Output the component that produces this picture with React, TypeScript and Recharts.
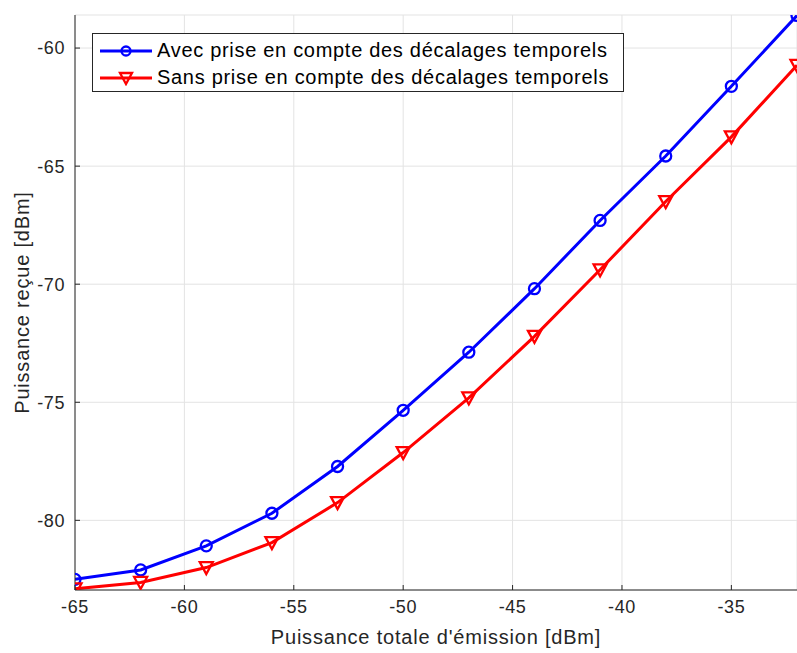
import { LineChart, Line, XAxis, YAxis, CartesianGrid } from 'recharts';

const emission = [-65, -62, -59, -56, -53, -50, -47, -44, -41, -38, -35, -32];
const avecDecalages = [-82.5, -82.1, -81.08, -79.7, -77.72, -75.34, -72.88, -70.19, -67.3, -64.57, -61.62, -58.62];
const sansDecalages = [-82.9, -82.63, -82.0, -80.94, -79.25, -77.13, -74.81, -72.21, -69.39, -66.5, -63.76, -60.73];
const xTicks = [-65, -60, -55, -50, -45, -40, -35];
const yTicks = [-80, -75, -70, -65, -60];

const labelAvec = 'Avec prise en compte des décalages temporels';
const labelSans = 'Sans prise en compte des décalages temporels';

const data = emission.map((x, i) => ({ x, avec: avecDecalages[i], sans: sansDecalages[i] }));

const FONT = '"Liberation Sans", Arial, Helvetica, sans-serif';
const AXIS = '#262626';

const TriangleDot = (props: any) => {
    const { cx, cy, index } = props;
    if (cx == null || cy == null) return null;
    return (
        <polygon
            key={`tri-${index}`}
            points={`${cx - 6.5},${cy - 5.5} ${cx + 6.5},${cy - 5.5} ${cx},${cy + 6.5}`}
            fill="none"
            stroke="#ff0000"
            strokeWidth={2.3}
        />
    );
};

const LegendRow = ({ color, marker, text }: { color: string; marker: 'circle' | 'tri'; text: string }) => (
    <div style={{ display: 'flex', alignItems: 'center', height: 27 }}>
        <svg width={52} height={16} style={{ marginRight: 5 }}>
            <line x1={0} y1={8} x2={52} y2={8} stroke={color} strokeWidth={3} />
            {marker === 'circle' ? (
                <circle cx={26} cy={8} r={4.5} fill="none" stroke={color} strokeWidth={2.3} />
            ) : (
                <polygon points="20,3 32,3 26,14" fill="none" stroke={color} strokeWidth={2.3} />
            )}
        </svg>
        <span>{text}</span>
    </div>
);

// legend box overlaid on the plot, upper left like the original
const LegendBox = () => (
    <div
        style={{
            position: 'absolute',
            left: 92,
            top: 33,
            border: `1px solid ${AXIS}`,
            background: '#fff',
            padding: '3px 8px 3px 7px',
            fontFamily: FONT,
            fontSize: 20,
            letterSpacing: 0.7,
            color: '#000',
            whiteSpace: 'nowrap',
            boxSizing: 'border-box',
            width: 532,
            height: 59,
        }}
    >
        <LegendRow color="#0000ff" marker="circle" text={labelAvec} />
        <LegendRow color="#ff0000" marker="tri" text={labelSans} />
    </div>
);

export default function App() {
    return (
        <div style={{ position: 'absolute', left: 0, top: 0, width: 797, height: 653, background: '#fff' }}>
            <LineChart width={797} height={653} data={data} margin={{ top: 15, right: 0, bottom: 0, left: 0 }}>
                <CartesianGrid stroke="#e3e3e3" strokeWidth={1} />
                <XAxis
                    dataKey="x"
                    type="number"
                    domain={[-65, -32]}
                    ticks={xTicks}
                    allowDataOverflow
                    height={63}
                    stroke={AXIS}
                    tickSize={-5}
                    tickMargin={15}
                    tick={{ fill: AXIS, fontSize: 18, fontFamily: FONT, letterSpacing: 0.6 }}
                    label={{ value: "Puissance totale d'émission [dBm]", position: 'insideBottom', offset: 9, fill: AXIS, fontSize: 20, fontFamily: FONT, letterSpacing: 0.8 }}
                />
                <XAxis
                    xAxisId="top"
                    orientation="top"
                    dataKey="x"
                    type="number"
                    domain={[-65, -32]}
                    ticks={xTicks}
                    height={0}
                    stroke={AXIS}
                    tickSize={-5}
                    tickFormatter={() => ''}
                />
                <YAxis
                    type="number"
                    domain={[-82.95, -58.6]}
                    ticks={yTicks}
                    allowDataOverflow
                    width={75}
                    stroke={AXIS}
                    tickSize={-5}
                    tickMargin={15}
                    tick={{ fill: AXIS, fontSize: 18, fontFamily: FONT, letterSpacing: 0.6 }}
                    label={{ value: 'Puissance reçue [dBm]', angle: -90, position: 'insideLeft', offset: 22, fill: AXIS, fontSize: 20, fontFamily: FONT, letterSpacing: 0.8, style: { textAnchor: 'middle' } }}
                />
                <Line
                    dataKey="avec"
                    name={labelAvec}
                    stroke="#0000ff"
                    strokeWidth={3}
                    dot={{ r: 5.5, fill: 'none', stroke: '#0000ff', strokeWidth: 2.3 }}
                    activeDot={false}
                    isAnimationActive={false}
                />
                <Line
                    dataKey="sans"
                    name={labelSans}
                    stroke="#ff0000"
                    strokeWidth={3}
                    dot={<TriangleDot />}
                    activeDot={false}
                    isAnimationActive={false}
                />
            </LineChart>
            <LegendBox />
        </div>
    );
}
